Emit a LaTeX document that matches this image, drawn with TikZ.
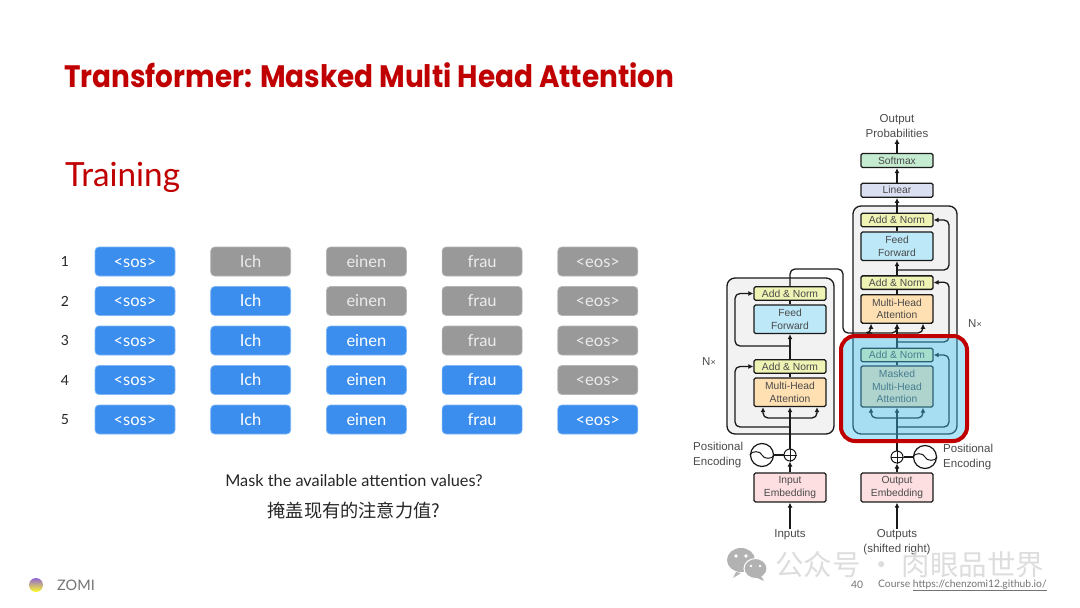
\documentclass[tikz,border=0pt]{standalone}
\usepackage{fontspec}
\setmainfont{Lato}
\newfontfamily\titlefont{Poppins}[FakeStretch=0.9]
\newfontfamily\archfont{Liberation Sans}
\newfontfamily\cjkfont{Noto Sans CJK SC}
\usetikzlibrary{arrows.meta, positioning}
\definecolor{zomired}{HTML}{C00000}
\definecolor{tokenblue}{HTML}{3B8EEE}
\definecolor{tokenedge}{HTML}{7DB5F5}
\definecolor{tokengray}{HTML}{999999}
\definecolor{tokengrayedge}{HTML}{B5B5B5}
\definecolor{archtext}{HTML}{4A4A4A}
\definecolor{normyellow}{HTML}{EFF3B4}
\definecolor{ffblue}{HTML}{BCE8F8}
\definecolor{attorange}{HTML}{FFE0B2}
\definecolor{embpink}{HTML}{FEDFE1}
\definecolor{softgreen}{HTML}{C5EBD0}
\definecolor{lineblue}{HTML}{DADFF2}
\definecolor{stackgray}{HTML}{F2F2F2}
\definecolor{maskblue}{RGB}{66,195,243}

\begin{document}
\begin{tikzpicture}[
    x=1pt, y=-1pt,
    node distance=9.8pt and 35pt,
    token/.style={rectangle, rounded corners=4pt, draw=tokenedge, fill=tokenblue, line width=0.7pt,
                minimum width=80pt, minimum height=29pt, inner sep=0pt, text height=11pt, text depth=0pt,
                text=white, font=\fontsize{16.5}{18}\selectfont},
    tokenoff/.style={token, draw=tokengrayedge, fill=tokengray, text=white!92!black},
    rownum/.style={font=\fontsize{14}{16}\selectfont, text=black!85},
    stack/.style={draw=black!90, fill=stackgray, line width=1.3pt, rounded corners=8pt},
    layer/.style={rectangle, rounded corners=1.5pt, draw=black!90, line width=1.3pt, minimum width=72pt, inner sep=0pt,
                align=center, text=archtext, font=\archfont\fontsize{10.3}{12.6}\selectfont},
    norm/.style={layer, fill=normyellow, minimum height=13.5pt},
    ff/.style={layer, fill=ffblue, minimum height=28.5pt},
    mha/.style={layer, fill=attorange, minimum height=28.5pt},
    emb/.style={layer, fill=embpink, minimum height=29pt},
    archlabel/.style={align=center, inner sep=1pt, text=archtext, font=\archfont\fontsize{11.5}{15}\selectfont},
    enc/.style={archlabel, align=left},
    arr/.style={-{Latex[length=5pt,width=5pt]}, line width=1.3pt, color=black!90, rounded corners=5pt},
    lnk/.style={line width=1.3pt, color=black!90, rounded corners=5pt},
    sine/.style={circle, draw=black!90, line width=1.2pt, minimum size=23pt, inner sep=0pt},
    plus/.style={circle, draw=black!90, line width=1pt, minimum size=12pt, inner sep=0pt}
  ]
    \useasboundingbox (0,0) rectangle (1080,608);

    % heading
    \node[anchor=west, inner sep=0pt, text=zomired, font=\titlefont\bfseries\fontsize{31}{36}\selectfont] (title) at (64,75.5) {Transformer: Masked Multi Head Attention};
    \node[anchor=west, inner sep=0pt, text=zomired, font=\fontsize{33.3}{38}\selectfont] (train) at (65,177) {Training};

    % token rows
    \node[token] (s1) at (135,261.5) {<sos>};
    \node[tokenoff, right=of s1] (i1) {Ich};
    \node[tokenoff, right=of i1] (e1) {einen};
    \node[tokenoff, right=of e1] (f1) {frau};
    \node[tokenoff, right=of f1] (o1) {<eos>};
    \node[token, below=of s1] (s2) {<sos>};
    \node[token, right=of s2] (i2) {Ich};
    \node[tokenoff, right=of i2] (e2) {einen};
    \node[tokenoff, right=of e2] (f2) {frau};
    \node[tokenoff, right=of f2] (o2) {<eos>};
    \node[token, below=of s2] (s3) {<sos>};
    \node[token, right=of s3] (i3) {Ich};
    \node[token, right=of i3] (e3) {einen};
    \node[tokenoff, right=of e3] (f3) {frau};
    \node[tokenoff, right=of f3] (o3) {<eos>};
    \node[token, below=of s3] (s4) {<sos>};
    \node[token, right=of s4] (i4) {Ich};
    \node[token, right=of i4] (e4) {einen};
    \node[token, right=of e4] (f4) {frau};
    \node[tokenoff, right=of f4] (o4) {<eos>};
    \node[token, below=of s4] (s5) {<sos>};
    \node[token, right=of s5] (i5) {Ich};
    \node[token, right=of i5] (e5) {einen};
    \node[token, right=of e5] (f5) {frau};
    \node[token, right=of f5] (o5) {<eos>};

    \node[rownum, left=22pt of s1] (n1) {1};
    \node[rownum, left=22pt of s2] (n2) {2};
    \node[rownum, left=22pt of s3] (n3) {3};
    \node[rownum, left=22pt of s4] (n4) {4};
    \node[rownum, left=22pt of s5] (n5) {5};

    \node[inner sep=0pt, text=black!85, font=\fontsize{16.3}{18}\selectfont] (ques) at (354,481) {Mask the available attention values?};
    \node[inner sep=0pt, text=black!85, font=\cjkfont\fontsize{18.2}{21}\selectfont] (quescn) at (354,511) {掩盖现有的注意力值?};

    % grey stacks
    \draw[stack] (727,278) rectangle (834,434);
    \draw[stack] (853,206) rectangle (957,434);

    % decoder
    \node[layer, fill=softgreen, minimum height=14pt] (softmax) at (897,160.5) {Softmax};
    \node[layer, fill=lineblue, minimum height=14pt, below=14.5pt of softmax] (linear) {Linear};
    \node[norm] (decadd3) at (897,220) {Add \& Norm};
    \node[ff, below=4pt of decadd3] (decff) {Feed\\Forward};
    \node[norm, below=14pt of decff] (decadd2) {Add \& Norm};
    \node[mha, below=4pt of decadd2] (decmha) {Multi-Head\\Attention};
    \node[norm] (decadd1) at (897,355) {Add \& Norm};
    \node[mha, minimum height=41pt, below=3pt of decadd1] (decmask) {Masked\\Multi-Head\\Attention};
    \node[emb] (outemb) at (897,487.5) {Output\\Embedding};

    % encoder
    \node[norm] (encadd2) at (790,293.5) {Add \& Norm};
    \node[ff, below=3.5pt of encadd2] (encff) {Feed\\Forward};
    \node[norm] (encadd1) at (790,366.5) {Add \& Norm};
    \node[mha, below=3.5pt of encadd1] (encmha) {Multi-Head\\Attention};
    \node[emb] (inemb) at (790,487.5) {Input\\Embedding};

    \node[plus] (encplus) at (790,455) {};
    \node[plus] (decplus) at (897,457) {};
    \node[sine] (encsine) at (762,455) {};
    \node[sine] (decsine) at (925,457) {};

    \node[archlabel] (outprob) at (897,126) {Output\\Probabilities};
    \node[archlabel] (inputs) at (790,535) {Inputs};
    \node[archlabel] (outputs) at (897,542.5) {Outputs\\(shifted right)};
    \node[enc, anchor=west] (encpos) at (692,455) {Positional\\Encoding};
    \node[enc, anchor=west] (decpos) at (942,457.5) {Positional\\Encoding};
    \node[archlabel] (encn) at (709,362) {N{\fontsize{9}{9}\selectfont×}};
    \node[archlabel] (decn) at (975,324) {N{\fontsize{9}{9}\selectfont×}};

    \coordinate (encres1) at (790,427);
    \coordinate (encres2) at (790,346);
    \coordinate (encsplit) at (790,418);
    \coordinate (decres1) at (897,427);
    \coordinate (decres2) at (897,342);
    \coordinate (decres3) at (897,270);
    \coordinate (decsplit) at (897,418);
    \coordinate (decmid) at (897,333);

    % encoder connectors
    \draw[arr] (inputs.north) -- (inemb.south);
    \draw[arr] (inemb.north) -- (encplus.south);
    \draw[arr] (encplus.north) -- (encmha.south);
    \draw[lnk] (encmha.north) -- (encadd1.south);
    \draw[arr] (encadd1.north) -- (encff.south);
    \draw[lnk] (encff.north) -- (encadd2.south);
    \draw[arr] (encres1) -| (735,366.5) -- (encadd1.west);
    \draw[arr] (encres2) -| (735,293.5) -- (encadd2.west);
    \draw[arr] (encsplit) -| ([xshift=-27pt]encmha.south);
    \draw[arr] (encsplit) -| ([xshift=27pt]encmha.south);

    % decoder connectors
    \draw[arr] (outputs.north) -- (outemb.south);
    \draw[arr] (outemb.north) -- (decplus.south);
    \draw[arr] (decplus.north) -- (decmask.south);
    \draw[lnk] (decmask.north) -- (decadd1.south);
    \draw[arr] (decadd1.north) -- (decmha.south);
    \draw[lnk] (decmha.north) -- (decadd2.south);
    \draw[arr] (decadd2.north) -- (decff.south);
    \draw[lnk] (decff.north) -- (decadd3.south);
    \draw[arr] (decadd3.north) -- (linear.south);
    \draw[arr] (linear.north) -- (softmax.south);
    \draw[arr] (softmax.north) -- (outprob.south);
    \draw[arr] (decres1) -| (949,355) -- (decadd1.east);
    \draw[arr] (decres2) -| (949,282) -- (decadd2.east);
    \draw[arr] (decres3) -| (949,220) -- (decadd3.east);
    \draw[arr] (decsplit) -| ([xshift=-26pt]decmask.south);
    \draw[arr] (decsplit) -| ([xshift=26pt]decmask.south);
    \draw[arr] (encadd2.north) |- (843,269) |- (867,333) -| ([xshift=-26pt]decmha.south);
    \draw[arr] (867,333) -| (decmha.south);
    \draw[arr] (decmid) -| ([xshift=26pt]decmha.south);

    % positional encoding
    \draw[lnk] (encsine.east) -- (encplus.west);
    \draw[lnk] (decsine.west) -- (decplus.east);
    \draw[line width=1pt, color=black!90] (encplus.north) -- (encplus.south) (encplus.west) -- (encplus.east);
    \draw[line width=1pt, color=black!90] (decplus.north) -- (decplus.south) (decplus.west) -- (decplus.east);
    \draw[line width=1pt, color=black!90] (encsine.west) to[out=70,in=110] (encsine.center) to[out=-70,in=-110] (encsine.east);
    \draw[line width=1pt, color=black!90] (decsine.west) to[out=70,in=110] (decsine.center) to[out=-70,in=-110] (decsine.east);

    % masked part
    \draw[draw=zomired, line width=4pt, fill=maskblue, fill opacity=0.42, rounded corners=14pt] (841,336) rectangle (967,441);

    % watermark and footer
    \fill[black!30] (741,560) ellipse (14pt and 12pt);
    \fill[black!30] (736,572) -- (733,578) -- (741,573) -- cycle;
    \fill[black!30, draw=white, line width=1pt] (755.5,568.5) ellipse (11.5pt and 10pt);
    \fill[black!30] (761,576) -- (764,581) -- (755,577) -- cycle;
    \fill[white] (736,556) circle (1.8pt) (746,556) circle (1.8pt) (751,566) circle (1.4pt) (760,566) circle (1.4pt);
    \node[inner sep=0pt, text=white!70!gray, anchor=west, text opacity=0.9, font=\cjkfont\fontsize{28.5}{32}\selectfont] (mark) at (775,565) {公众号 · 肉眼品世界};
    \node[inner sep=0pt, text=black!55, font=\fontsize{10.3}{12}\selectfont] (page) at (857,585) {40};
    \node[inner sep=0pt, anchor=west, text=black!55, font=\fontsize{10.3}{12}\selectfont] (course) at (878,585.5) {Course \underline{https://chenzomi12.github.io/}};
    \node[inner sep=0pt, anchor=west, text=black!55, font=\fontsize{14.5}{16}\selectfont] (zomi) at (57,585.5) {ZOMI};
    \shade[top color=violet!55!blue!60, middle color=green!60!teal!70, bottom color=yellow!85] (36,585) circle (7pt);
\end{tikzpicture}
\end{document}
